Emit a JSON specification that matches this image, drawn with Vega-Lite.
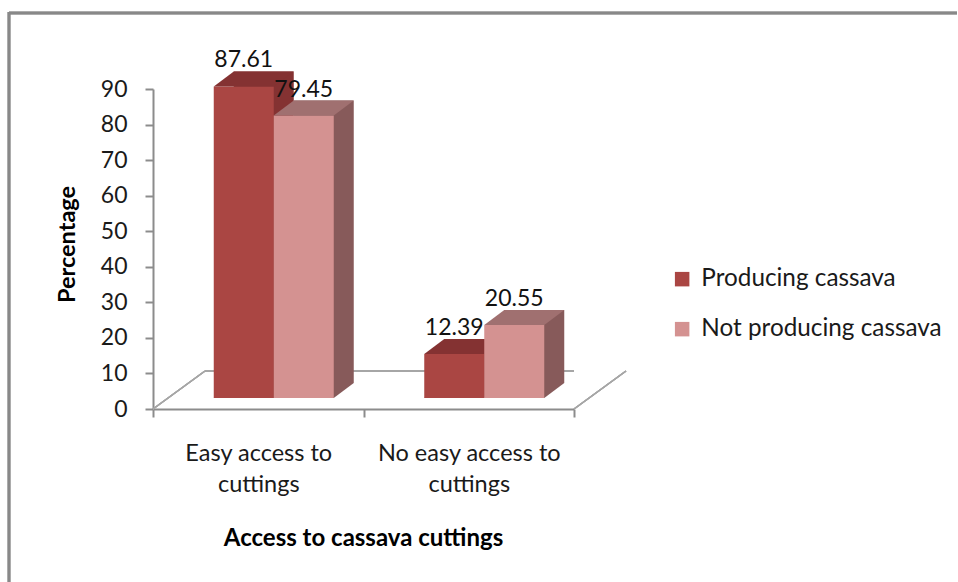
{
  "$schema": "https://vega.github.io/schema/vega-lite/v6.json",
  "width": 421,
  "height": 320,
  "autosize": "none",
  "padding": {"left": 153, "top": 89, "right": 384, "bottom": 173},
  "background": "white",
  "config": {"view": {"stroke": null}, "font": "Lato"},
  "data": {"values": [
    {"cat": "Easy access to cuttings", "series": "Producing cassava", "value": 87.61},
    {"cat": "Easy access to cuttings", "series": "Not producing cassava", "value": 79.45},
    {"cat": "No easy access to cuttings", "series": "Producing cassava", "value": 12.39},
    {"cat": "No easy access to cuttings", "series": "Not producing cassava", "value": 20.55}
  ]},
  "encoding": {
    "x": {"field": "cat", "type": "nominal", "sort": null,
      "scale": {"domain": ["Easy access to cuttings", "No easy access to cuttings"], "paddingInner": 0, "paddingOuter": 0},
      "axis": {"title": "Access to cassava cuttings", "labelAngle": 0, "tickBand": "extent", "tickSize": 8,
        "domainColor": "#8c8c8c", "domainWidth": 2, "tickColor": "#8c8c8c", "tickWidth": 2,
        "labelExpr": "datum.value == 'Easy access to cuttings' ? ['Easy access to', 'cuttings'] : (datum.value == 'No easy access to cuttings' ? ['No easy access to', 'cuttings'] : '')",
        "labelFontSize": 23.5, "labelLineHeight": 31, "labelPadding": 24, "labelLimit": 400, "labelColor": "#1a1a1a", "labelFont": "Lato",
        "titleFontSize": 24, "titleFontWeight": "bold", "titleColor": "#000000", "titleFont": "Lato",
        "titleX": 210, "titleY": 129, "titleBaseline": "middle", "titleAnchor": "middle"}},
    "y": {"field": "value", "type": "quantitative",
      "scale": {"domain": [0, 90], "nice": false},
      "axis": {"title": "Percentage", "values": [0, 10, 20, 30, 40, 50, 60, 70, 80, 90], "grid": false,
        "tickSize": 8, "labelPadding": 18, "domainColor": "#8c8c8c", "domainWidth": 2, "tickColor": "#8c8c8c", "tickWidth": 2,
        "labelFontSize": 23, "labelColor": "#1a1a1a", "labelFont": "Lato",
        "titleFontSize": 23.5, "titleFontWeight": "bold", "titleColor": "#000000", "titleFont": "Lato",
        "titleX": -86, "titleY": 155, "titleAngle": -90, "titleBaseline": "middle", "titleAlign": "center"}}
  },
  "layer": [
    {"mark": {"type": "rule", "color": "#888888", "strokeWidth": 2.5},
     "encoding": {"x": {"value": -144}, "x2": {"value": 804}, "y": {"value": -76}, "y2": {"value": -76}}},
    {"mark": {"type": "rule", "color": "#888888", "strokeWidth": 2.5},
     "encoding": {"x": {"value": -144}, "x2": {"value": -144}, "y": {"value": -77}, "y2": {"value": 493}}},
    {"mark": {"type": "rule", "color": "#a6a6a6", "strokeWidth": 1.5, "xOffset": 52, "yOffset": -38},
     "encoding": {"x": {"value": 0}, "x2": {"value": "width"}, "y": {"datum": 0}}},
    {"mark": {"type": "rule", "color": "#a6a6a6", "strokeWidth": 1.5, "y2Offset": -38},
     "encoding": {"x": {"value": 0}, "x2": {"value": 52}, "y": {"datum": 0}, "y2": {"datum": 0}}},
    {"mark": {"type": "rule", "color": "#a6a6a6", "strokeWidth": 1.5, "y2Offset": -38, "x2Offset": 52},
     "encoding": {"x": {"value": "width"}, "x2": {"value": "width"}, "y": {"datum": 0}, "y2": {"datum": 0}}},

    {"transform": [{"filter": "datum.series == 'Producing cassava'"}],
     "mark": {"type": "bar", "width": 60, "xOffset": 5.5, "yOffset": -26, "y2Offset": -26, "color": "#843232"}},
    {"transform": [{"filter": "datum.series == 'Producing cassava'"}],
     "mark": {"type": "point", "shape": "M-0.6,0L0.6,0L1,-0.3L-0.2,-0.3Z", "size": 10000, "filled": true, "opacity": 1, "strokeWidth": 0, "xOffset": -14.5, "yOffset": -11, "color": "#843232"},
     "encoding": {"y": {"datum": 0}}},
    {"transform": [{"filter": "datum.series == 'Producing cassava'"}],
     "mark": {"type": "bar", "width": 60, "xOffset": -14.5, "yOffset": -11, "y2Offset": -11},
     "encoding": {"color": {"field": "series", "type": "nominal",
       "scale": {"domain": ["Producing cassava", "Not producing cassava"], "range": ["#AA4643", "#D49291"]},
       "legend": {"title": null, "orient": "none", "legendX": 517, "legendY": 178, "symbolType": "square", "symbolSize": 210,
         "symbolStrokeWidth": 0, "labelFontSize": 24.3, "labelFont": "Lato", "labelColor": "#1a1a1a", "labelOffset": 7, "rowPadding": 25, "labelLimit": 400}}}},
    {"transform": [{"filter": "datum.series == 'Producing cassava'"}],
     "mark": {"type": "point", "shape": "M-0.6,0L0.6,0L1,-0.3L-0.2,-0.3Z", "size": 10000, "filled": true, "opacity": 1, "strokeWidth": 0, "xOffset": -14.5, "yOffset": -11, "color": "#843232"}},

    {"transform": [{"filter": "datum.series == 'Not producing cassava'"}],
     "mark": {"type": "bar", "width": 60, "xOffset": 65.5, "yOffset": -26, "y2Offset": -26, "color": "#875A5A"}},
    {"transform": [{"filter": "datum.series == 'Not producing cassava'"}],
     "mark": {"type": "point", "shape": "M-0.6,0L0.6,0L1,-0.3L-0.2,-0.3Z", "size": 10000, "filled": true, "opacity": 1, "strokeWidth": 0, "xOffset": 45.5, "yOffset": -11, "color": "#875A5A"},
     "encoding": {"y": {"datum": 0}}},
    {"transform": [{"filter": "datum.series == 'Not producing cassava'"}],
     "mark": {"type": "bar", "width": 60, "xOffset": 45.5, "yOffset": -11, "y2Offset": -11},
     "encoding": {"color": {"field": "series", "type": "nominal"}}},
    {"transform": [{"filter": "datum.series == 'Not producing cassava'"}],
     "mark": {"type": "point", "shape": "M-0.6,0L0.6,0L1,-0.3L-0.2,-0.3Z", "size": 10000, "filled": true, "opacity": 1, "strokeWidth": 0, "xOffset": 45.5, "yOffset": -11, "color": "#A07070"}},

    {"transform": [{"filter": "datum.series == 'Producing cassava'"}],
     "mark": {"type": "text", "xOffset": -14.5, "yOffset": -37, "fontSize": 23, "font": "Lato", "color": "#111111", "baseline": "middle"},
     "encoding": {"text": {"field": "value", "type": "quantitative", "format": ".2f"}}},
    {"transform": [{"filter": "datum.series == 'Not producing cassava'"}],
     "mark": {"type": "text", "xOffset": 45.5, "yOffset": -37, "fontSize": 23, "font": "Lato", "color": "#111111", "baseline": "middle"},
     "encoding": {"text": {"field": "value", "type": "quantitative", "format": ".2f"}}}
  ]
}
